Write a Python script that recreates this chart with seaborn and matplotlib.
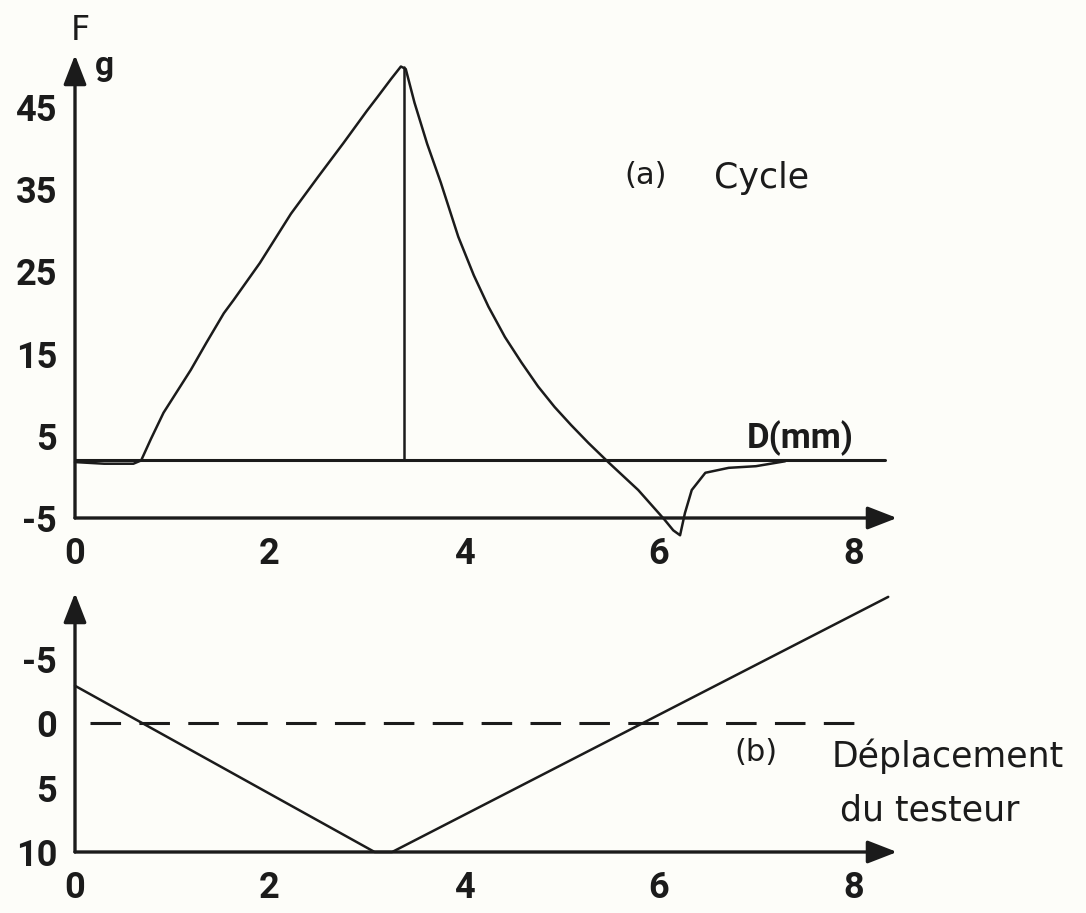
import matplotlib
matplotlib.use("Agg")
import matplotlib.pyplot as plt
import pandas as pd
import seaborn as sns

# (a) Cycle: force F (g) against probe travel D (mm)
cycle_d = [0.00, 0.30, 0.60, 0.68, 0.78, 0.91, 1.05, 1.19, 1.35, 1.53, 1.63, 1.90,
           2.22, 2.50, 2.76, 3.00, 3.11, 3.25, 3.35, 3.40, 3.49, 3.62, 3.76, 3.94,
           4.10, 4.25, 4.42, 4.59, 4.76, 4.93, 5.10, 5.28, 5.49, 5.79, 6.06, 6.15,
           6.22, 6.27, 6.34, 6.48, 6.72, 7.00, 7.30]
cycle_f = [1.8, 1.6, 1.6, 2.0, 4.6, 7.8, 10.4, 13.0, 16.3, 19.9, 21.5, 26.0,
           32.0, 36.5, 40.6, 44.5, 46.2, 48.4, 49.9, 49.6, 45.5, 40.5, 35.8, 29.2,
           24.5, 20.7, 17.0, 13.9, 11.0, 8.5, 6.3, 4.1, 1.7, -1.6, -5.2, -6.5,
           -7.1, -4.4, -1.6, 0.5, 1.1, 1.3, 1.9]
baseline_d = [0.0, 8.33]
baseline_f = [2.0, 2.0]
peak_drop_d = [3.38, 3.38]
peak_drop_f = [2.0, 49.9]

# (b) Probe displacement
probe_d = [0.0, 3.08, 3.26, 8.36]
probe_pos = [-2.9, 10.0, 10.0, -9.8]
zero_d = [0.15, 8.15]
zero_pos = [0.0, 0.0]

force_ticks = [-5, 5, 15, 25, 35, 45]
force_labels = ["-5", "5", "15", "25", "35", "45"]
probe_ticks = [-5, 0, 5, 10]
probe_labels = ["-5", "0", "5", "10"]
d_ticks = [0, 2, 4, 6, 8]
d_labels = ["0", "2", "4", "6", "8"]

W, H = 1086, 913
INK = "#1b1b1b"
PAPER = "#fdfdf9"

sns.set_style("white")
plt.rcParams["font.family"] = ["DejaVu Sans"]


def fx(x):
    return x / W


def fy(y):
    return 1 - y / H


fig = plt.figure(figsize=(W / 100, H / 100), dpi=100, facecolor=PAPER)
ax_f = fig.add_axes([fx(75), fy(518), 822 / W, (518 - 55) / H])
ax_p = fig.add_axes([fx(75), fy(852), 822 / W, (852 - 593) / H])

tick_font = dict(family="Roboto", weight="bold", size=26)

for ax in (ax_f, ax_p):
    ax.set_facecolor("none")
    for s in ax.spines.values():
        s.set_visible(False)
    ax.set_xlim(0, 8.45)
    ax.tick_params(axis="both", which="both", direction="out", length=8,
                   width=2.0, color=INK, pad=5)
    ax.set_xticks(d_ticks)
    ax.set_xticklabels(d_labels, fontdict=tick_font, color=INK)

arrow = dict(arrowstyle="-|>,head_length=0.9,head_width=0.35", lw=2.4,
             color=INK, mutation_scale=20, shrinkA=0, shrinkB=0)

# ---- force panel ----
ax_f.set_ylim(-5, 51.3)
ax_f.set_yticks(force_ticks)
ax_f.set_yticklabels(force_labels, fontdict=tick_font, color=INK)
ax_f.annotate("", xy=(8.45, -5), xytext=(0, -5), xycoords="data", arrowprops=arrow,
              annotation_clip=False)
ax_f.annotate("", xy=(0, 51.3), xytext=(0, -5), xycoords="data", arrowprops=arrow,
              annotation_clip=False)

cycle = pd.DataFrame({"D": cycle_d, "F": cycle_f})
sns.lineplot(data=cycle, x="D", y="F", ax=ax_f, sort=False, estimator=None,
             color=INK, lw=1.8, clip_on=False)
sns.lineplot(x=baseline_d, y=baseline_f, ax=ax_f, color=INK, lw=2.2)
sns.lineplot(x=peak_drop_d, y=peak_drop_f, ax=ax_f, sort=False, estimator=None,
             color=INK, lw=1.8)
ax_f.set_xlabel("")
ax_f.set_ylabel("")

# ---- displacement panel ----
ax_p.set_ylim(10, -10.1)
ax_p.set_yticks(probe_ticks)
ax_p.set_yticklabels(probe_labels, fontdict=tick_font, color=INK)
ax_p.annotate("", xy=(8.45, 10), xytext=(0, 10), xycoords="data", arrowprops=arrow,
              annotation_clip=False)
ax_p.annotate("", xy=(0, -10.1), xytext=(0, 10), xycoords="data", arrowprops=arrow,
              annotation_clip=False)
probe = pd.DataFrame({"D": probe_d, "P": probe_pos})
sns.lineplot(data=probe, x="D", y="P", ax=ax_p, sort=False, estimator=None,
             color=INK, lw=1.8, clip_on=False)
ax_p.plot(zero_d, zero_pos, color=INK, lw=2.2, linestyle=(0, (10, 6)))
ax_p.set_xlabel("")
ax_p.set_ylabel("")

# ---- annotations ----
fig.text(fx(80), fy(30), "F", fontsize=24, color=INK, ha="center", va="center")
fig.text(fx(104), fy(66), "g", fontsize=24, color=INK, ha="center", va="center",
         family="Roboto", weight="bold")
fig.text(fx(800), fy(438), "D(mm)", fontsize=25, color=INK, ha="center",
         va="center", family="Roboto", weight="bold")
fig.text(fx(646), fy(176), "(a)", fontsize=22, color=INK, ha="center", va="center")
fig.text(fx(762), fy(178), "Cycle", fontsize=25, color=INK, ha="center", va="center")
fig.text(fx(756), fy(752), "(b)", fontsize=22, color=INK, ha="center", va="center")
fig.text(fx(948), fy(756), "Déplacement", fontsize=25, color=INK, ha="center",
         va="center")
fig.text(fx(930), fy(810), "du testeur", fontsize=25, color=INK, ha="center",
         va="center")

fig.savefig("out.png", dpi=100, facecolor=PAPER)
